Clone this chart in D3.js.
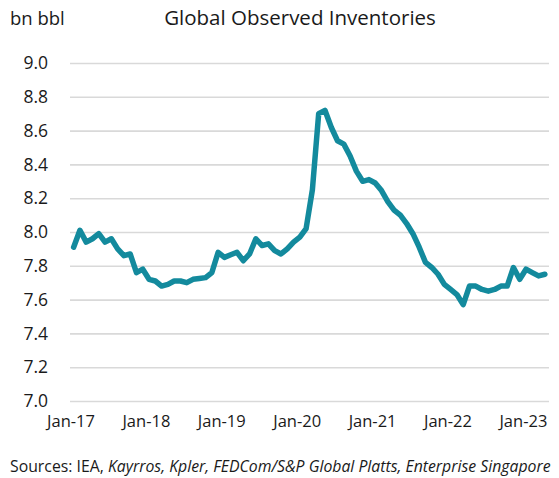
<!DOCTYPE html>
<html>
<head>
<meta charset="utf-8">
<script src="https://cdn.jsdelivr.net/npm/d3@7"></script>
<style>
  html, body { margin: 0; padding: 0; background: #fff; }
  svg { display: block; }
  text { font-family: "Open Sans", "Noto Sans", sans-serif; fill: #1a1a1a; }
</style>
</head>
<body>
<svg id="chart" width="559" height="478"></svg>
<script>
// ---- data (monthly, Jan-17 .. Apr-23), bn bbl ----
const inventories = [
  7.91, 8.01, 7.94, 7.96, 7.99, 7.94, 7.96, 7.90, 7.86, 7.87, 7.76, 7.78,   // 2017
  7.72, 7.71, 7.68, 7.69, 7.71, 7.71, 7.70, 7.72, 7.725, 7.73, 7.76, 7.88,  // 2018
  7.85, 7.865, 7.88, 7.83, 7.87, 7.96, 7.92, 7.93, 7.89, 7.87, 7.90, 7.94,  // 2019
  7.97, 8.02, 8.25, 8.70, 8.72, 8.62, 8.54, 8.52, 8.45, 8.36, 8.30, 8.31,   // 2020
  8.29, 8.245, 8.18, 8.13, 8.10, 8.05, 7.99, 7.91, 7.82, 7.79, 7.75, 7.69,  // 2021
  7.66, 7.63, 7.57, 7.68, 7.68, 7.66, 7.65, 7.66, 7.68, 7.68, 7.79, 7.72,   // 2022
  7.78, 7.76, 7.74, 7.75                                                     // 2023
];
const yTicks = [7.0, 7.2, 7.4, 7.6, 7.8, 8.0, 8.2, 8.4, 8.6, 8.8, 9.0];
const xTickMonths = [0, 12, 24, 36, 48, 60, 72];
const xTickLabels = ["Jan-17", "Jan-18", "Jan-19", "Jan-20", "Jan-21", "Jan-22", "Jan-23"];
const titleText = "Global Observed Inventories";
const unitText = "bn bbl";
const sourcePlain = "Sources: IEA, ";
const sourceItalic = "Kayrros, Kpler, FEDCom/S&P Global Platts, Enterprise Singapore";

const svg = d3.select("#chart");
const plot = { left: 70, right: 549, top: 63, bottom: 401 };

const x = d3.scaleLinear().domain([0, 76]).range([70.5, 548]);
const y = d3.scaleLinear().domain([7.0, 9.0]).range([plot.bottom, plot.top]);

// gridlines via y axis
const yAxis = d3.axisLeft(y).tickValues(yTicks).tickFormat(d3.format(".1f"))
  .tickSize(-(plot.right - plot.left)).tickPadding(22);
const gy = svg.append("g").attr("transform", `translate(${plot.left},0)`).call(yAxis);
gy.select(".domain").remove();
gy.selectAll(".tick line").attr("stroke", "#d9d9d9").attr("stroke-width", 1.6);
gy.selectAll(".tick text").attr("font-size", 17.5).attr("fill", "#1a1a1a")
  .attr("font-family", "'Open Sans', 'Noto Sans', sans-serif");

// x axis labels
const xAxis = d3.axisBottom(x).tickValues(xTickMonths)
  .tickFormat((d, i) => xTickLabels[i]).tickSize(0).tickPadding(14);
const gx = svg.append("g").attr("transform", `translate(0,${plot.bottom})`).call(xAxis);
gx.select(".domain").remove();
gx.selectAll(".tick text").attr("font-size", 16.5).attr("fill", "#1a1a1a")
  .attr("font-family", "'Open Sans', 'Noto Sans', sans-serif");

// line (points sit mid-month)
const line = d3.line().x((d, i) => x(i + 0.5)).y(d => y(d));
svg.append("path").datum(inventories)
  .attr("d", line)
  .attr("fill", "none")
  .attr("stroke", "#138a9d")
  .attr("stroke-width", 5.5)
  .attr("stroke-linejoin", "round")
  .attr("stroke-linecap", "round");

// titles
svg.append("text").attr("x", 300).attr("y", 25).attr("text-anchor", "middle")
  .attr("font-size", 20.5).text(titleText);
svg.append("text").attr("x", 10).attr("y", 25).attr("font-size", 18.5).text(unitText);

// source
const src = svg.append("text").attr("x", 10).attr("y", 472).attr("font-size", 15.8);
src.append("tspan").text(sourcePlain);
src.append("tspan").attr("font-style", "italic").text(sourceItalic);
</script>
</body>
</html>
